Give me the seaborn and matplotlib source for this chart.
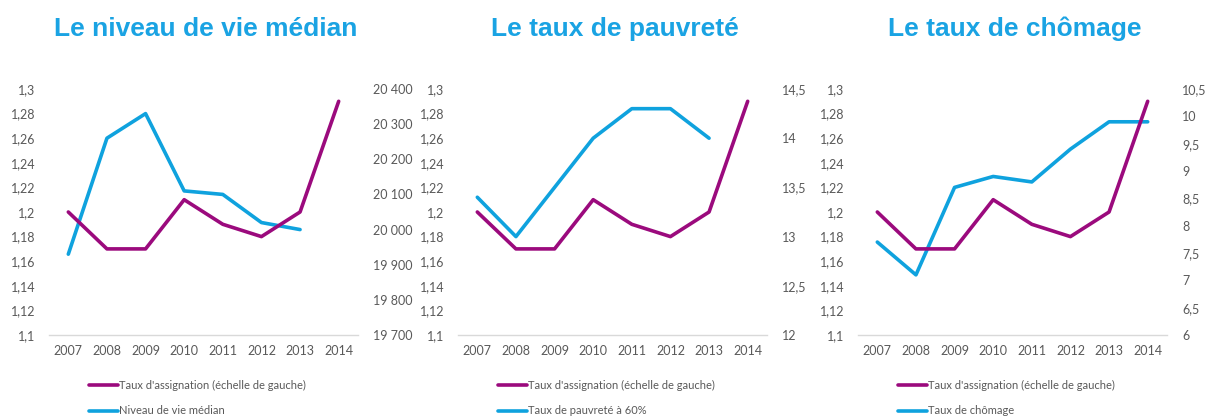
import matplotlib
matplotlib.use("Agg")
import matplotlib.pyplot as plt
import seaborn as sns
import pandas as pd
import numpy as np
from matplotlib.lines import Line2D

sns.set_theme(style="white")
plt.rcParams['font.family'] = ['Lato', 'DejaVu Sans']

# --- data ---
years = [2007, 2008, 2009, 2010, 2011, 2012, 2013, 2014]
taux_assignation = [1.20, 1.17, 1.17, 1.21, 1.19, 1.18, 1.20, 1.29]
niveau_vie = [19930, 20260, 20330, 20110, 20100, 20020, 20000]      # 2007-2013
taux_pauvrete = [13.4, 13.0, 13.5, 14.0, 14.3, 14.3, 14.0]          # 2007-2013
taux_chomage = [7.7, 7.1, 8.7, 8.9, 8.8, 9.4, 9.9, 9.9]             # 2007-2014

titles = ["Le niveau de vie médian", "Le taux de pauvreté", "Le taux de chômage"]
right_labels = ["Niveau de vie médian", "Taux de pauvreté à 60%", "Taux de chômage"]
left_label = "Taux d'assignation (échelle de gauche)"
right_series = [niveau_vie, taux_pauvrete, taux_chomage]
right_ticks = [np.arange(19700, 20401, 100), np.arange(12, 14.51, 0.5), np.arange(6, 10.51, 0.5)]
left_ticks = np.arange(1.1, 1.3001, 0.02)

MAGENTA = "#9B0A7D"
BLUE = "#0FA2DE"
TITLE_BLUE = "#1AA3E3"
GREY = "#595959"


def fr(v, thousands=False):
    if thousands:
        return f"{int(round(v)):,}".replace(",", " ")
    s = f"{v:.2f}".rstrip("0").rstrip(".")
    return s.replace(".", ",")


fig = plt.figure(figsize=(12.06, 4.17), dpi=100)
lefts = [49, 458, 858]
W, H = 1206, 417

for i in range(3):
    ax = fig.add_axes([lefts[i] / W, (H - 335) / H, 309 / W, 246 / H])
    ax2 = ax.twinx()

    df_l = pd.DataFrame({"year": years, "val": taux_assignation})
    sns.lineplot(ax=ax, data=df_l, x="year", y="val", color=MAGENTA, lw=2.6)
    vals = right_series[i]
    df_r = pd.DataFrame({"year": years[:len(vals)], "val": vals})
    sns.lineplot(ax=ax2, data=df_r, x="year", y="val", color=BLUE, lw=2.6)

    ax.set_xlim(2006.5, 2014.5)
    ax.set_ylim(1.1, 1.3)
    ax.set_yticks(left_ticks)
    ax.set_yticklabels([fr(t) for t in left_ticks])
    rt = right_ticks[i]
    ax2.set_ylim(rt[0], rt[-1])
    ax2.set_yticks(rt)
    ax2.set_yticklabels([fr(t, thousands=(i == 0)) for t in rt])
    ax.set_xticks(years)
    ax.set_xticklabels([str(y) for y in years])

    for a in (ax, ax2):
        a.set_xlabel("")
        a.set_ylabel("")
        for s in a.spines.values():
            s.set_visible(False)
        a.tick_params(length=0, labelsize=9, labelcolor=GREY)
        for line in a.get_lines():
            line.set_clip_on(False)
    ax.spines["bottom"].set_visible(True)
    ax.spines["bottom"].set_color("#D9D9D9")
    ax.spines["bottom"].set_linewidth(1)
    ax.tick_params(axis="y", pad=10)
    ax.tick_params(axis="x", pad=7)
    ax2.tick_params(axis="y", pad=11)
    ax2.set_zorder(ax.get_zorder() - 1)
    ax.patch.set_visible(False)

    cx = (lefts[i] + 157) / W
    fig.text(cx, 1 - 29 / H, titles[i], ha="center", va="center",
             fontsize=19, fontweight="bold", color=TITLE_BLUE,
             family=["Liberation Sans", "DejaVu Sans"])

    handles = [Line2D([], [], color=MAGENTA, lw=2.6),
               Line2D([], [], color=BLUE, lw=2.6)]
    fig.legend(handles, [left_label, right_labels[i]],
               loc="upper left", bbox_to_anchor=((lefts[i] + 40) / W, 1 - 380 / H),
               frameon=False, fontsize=8, labelcolor=GREY,
               handlelength=2.6, handletextpad=0.1, labelspacing=1.3,
               borderaxespad=0, borderpad=0)

fig.savefig("out.png", dpi=100)
